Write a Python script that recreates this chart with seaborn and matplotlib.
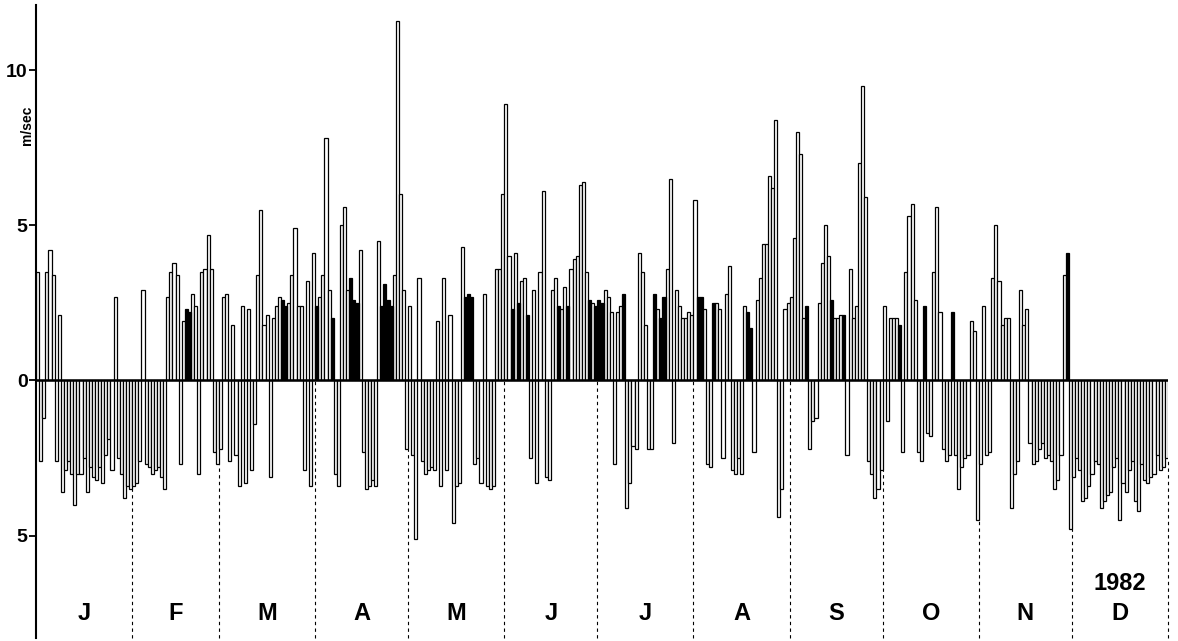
import matplotlib
matplotlib.use("Agg")
import matplotlib.pyplot as plt
import seaborn as sns
import pandas as pd
import numpy as np

# daily wind component, m/sec (positive up, negative down), 1982
jan = [3.5, -2.6, -1.2, 3.5, 4.2, 3.4, -2.6, 2.1, -3.6, -2.9, -2.6, -3.0, -4.0, -3.0, -3.0, -2.5,
       -3.6, -2.8, -3.1, -3.2, -2.8, -3.3, -2.4, -1.9, -2.9, 2.7, -2.5, -3.0, -3.8, -3.4, -3.5]
feb = [-3.4, -3.3, -2.6, 2.9, -2.7, -2.8, -3.0, -2.9, -2.8, -3.1, -3.5, 2.7, 3.5, 3.8, 3.4, -2.7,
       1.9, 2.3, 2.2, 2.8, 2.4, -3.0, 3.5, 3.6, 4.7, 3.6, -2.3, -2.7]
mar = [-2.2, 2.7, 2.8, -2.6, 1.8, -2.4, -3.4, 2.4, -3.3, 2.3, -2.9, -1.4, 3.4, 5.5, 1.8, 2.1,
       -3.1, 2.0, 2.4, 2.7, 2.6, 2.4, 2.5, 3.4, 4.9, 2.4, 2.4, -2.9, 3.2, -3.4, 4.1]
apr = [2.4, 2.7, 3.4, 7.8, 2.9, 2.0, -3.0, -3.4, 5.0, 5.6, 2.9, 3.3, 2.6, 2.5, 4.2, -2.3,
       -3.5, -3.4, -3.2, -3.4, 4.5, 2.4, 3.1, 2.6, 2.4, 3.4, 11.6, 6.0, 2.9, -2.2]
may = [2.4, -2.4, -5.1, 3.3, -2.6, -3.0, -2.9, -2.8, -2.9, 1.9, -3.4, 3.3, -2.9, 2.1, -4.6, -3.4,
       -3.3, 4.3, 2.7, 2.8, 2.7, -2.7, -2.5, -3.3, 2.8, -3.4, -3.5, -3.4, 3.6, 3.6, 6.0]
jun = [8.9, 4.0, 2.3, 4.1, 2.5, 3.2, 3.3, 2.1, -2.5, 2.9, -3.3, 3.5, 6.1, -3.1, -3.2, 2.9,
       3.3, 2.4, 2.3, 3.0, 2.4, 3.6, 3.9, 4.0, 6.3, 6.4, 3.5, 2.6, 2.5, 2.4]
jul = [2.6, 2.5, 2.9, 2.7, 2.2, -2.7, 2.2, 2.4, 2.8, -4.1, -3.3, -2.1, -2.2, 4.1, 3.5, 1.8,
       -2.2, -2.2, 2.8, 2.3, 2.0, 2.7, 3.6, 6.5, -2.0, 2.9, 2.4, 2.0, 2.0, 2.2, 2.1]
aug = [5.8, 2.7, 2.7, 2.3, -2.7, -2.8, 2.5, 2.5, 2.3, -2.5, 2.8, 3.7, -2.9, -3.0, -2.5, -3.0,
       2.4, 2.2, 1.7, -2.3, 2.6, 3.3, 4.4, 4.4, 6.6, 6.2, 8.4, -4.4, -3.5, 2.3, 2.5]
sep = [2.7, 4.6, 8.0, 7.3, 2.0, 2.4, -2.2, -1.3, -1.2, 2.5, 3.8, 5.0, 4.0, 2.6, 2.0, 2.0,
       2.1, 2.1, -2.4, 3.6, 2.0, 2.4, 7.0, 9.5, 5.9, -2.6, -3.0, -3.8, -3.5, -2.9]
oct_ = [2.4, -1.3, 2.0, 2.0, 2.0, 1.8, -2.3, 3.5, 5.3, 5.7, 2.6, -2.3, -2.6, 2.4, -1.7, -1.8,
        3.5, 5.6, 2.2, -2.2, -2.6, -2.4, 2.2, -2.4, -3.5, -2.8, -2.5, -2.4, 1.9, 1.6, -4.5]
nov = [-2.7, 2.4, -2.4, -2.3, 3.3, 5.0, 3.2, 1.8, 2.0, 2.0, -4.1, -3.0, -2.6, 2.9, 1.8, 2.3,
       -2.0, -2.7, -2.6, -2.2, -2.0, -2.5, -2.4, -2.6, -3.5, -3.2, -2.4, 3.4, 4.1, -4.8]
dec = [-3.1, -2.5, -2.9, -3.9, -3.8, -3.4, -3.0, -2.6, -2.7, -4.1, -3.9, -3.7, -3.6, -2.8, -2.5,
       -4.5, -3.3, -3.6, -2.9, -2.6, -3.9, -4.2, -2.7, -3.2, -3.3, -3.1, -3.0, -2.4, -2.9, -2.8, -2.5]

# black-filled days (1-based day within month)
filled = {1: [], 2: [18, 19], 3: [21, 22], 4: [1, 6, 12, 13, 14, 22, 23, 24, 25],
          5: [19, 20, 21], 6: [3, 5, 8, 18, 21, 28, 30], 7: [1, 2, 9, 19, 21, 22],
          8: [2, 3, 7, 18, 19], 9: [6, 14, 18], 10: [6, 14, 23], 11: [29], 12: []}

month_labels = ["J", "F", "M", "A", "M", "J", "J", "A", "S", "O", "N", "D"]
months = [jan, feb, mar, apr, may, jun, jul, aug, sep, oct_, nov, dec]

rows = []
for m, vals in enumerate(months, start=1):
    for d, v in enumerate(vals, start=1):
        rows.append({"month": m, "day": d, "value": v, "filled": d in filled[m]})
df = pd.DataFrame(rows)
df["idx"] = np.arange(len(df))

sns.set_style("white")
plt.rcParams["font.family"] = ["Liberation Sans", "DejaVu Sans"]
plt.rcParams["text.color"] = "black"
plt.rcParams["ytick.color"] = "black"

fig = plt.figure(figsize=(11.78, 6.41), dpi=100)
ax = fig.add_axes([36 / 1178, 1 - 638 / 641, (1168 - 36) / 1178, (638 - 5) / 641])

sns.barplot(data=df, x="idx", y="value", hue="filled", palette={False: "white", True: "black"},
            edgecolor="black", linewidth=0.9, width=1.0, dodge=False, legend=False, ax=ax)

ymin, ymax = -8.3, 12.1
ax.set_ylim(ymin, ymax)
ax.set_xlim(-0.5, len(df) - 0.5)
ax.axhline(0, color="black", lw=1.8, zorder=5)

# month boundaries
ends = np.cumsum([len(v) for v in months])
vals = df["value"].values
for b in ends:
    top = min(0, vals[b - 1], vals[b] if b < len(vals) else 0)
    ax.vlines(b - 0.5, ymin, top, colors="black", lw=0.8, linestyles=(0, (3, 3)), clip_on=False)

starts = np.concatenate([[0], ends[:-1]])
for s, e, lab in zip(starts, ends, month_labels):
    ax.text((s + e - 1) / 2, -7.5, lab, ha="center", va="center", fontsize=17, fontweight="bold")
ax.text((starts[-1] + ends[-1] - 1) / 2, -6.55, "1982", ha="center", va="center",
        fontsize=17, fontweight="bold")

for sp in ["top", "right", "bottom"]:
    ax.spines[sp].set_visible(False)
ax.spines["left"].set_linewidth(1.5)
ax.spines["left"].set_color("black")
ax.set_xticks([])
ax.set_xlabel("")
ax.set_ylabel("")
ax.set_yticks([-5, 0, 5, 10])
ax.set_yticklabels(["5", "0", "5", "10"], fontsize=14, fontweight="bold")
ax.tick_params(axis="y", direction="out", length=5, width=1.3, pad=1, left=True, colors="black")

fig.text(27 / 1178, 1 - 125 / 641, "m/sec", rotation=90, ha="center", va="center",
         fontsize=10, fontweight="bold")

fig.savefig("out.png", dpi=100)
